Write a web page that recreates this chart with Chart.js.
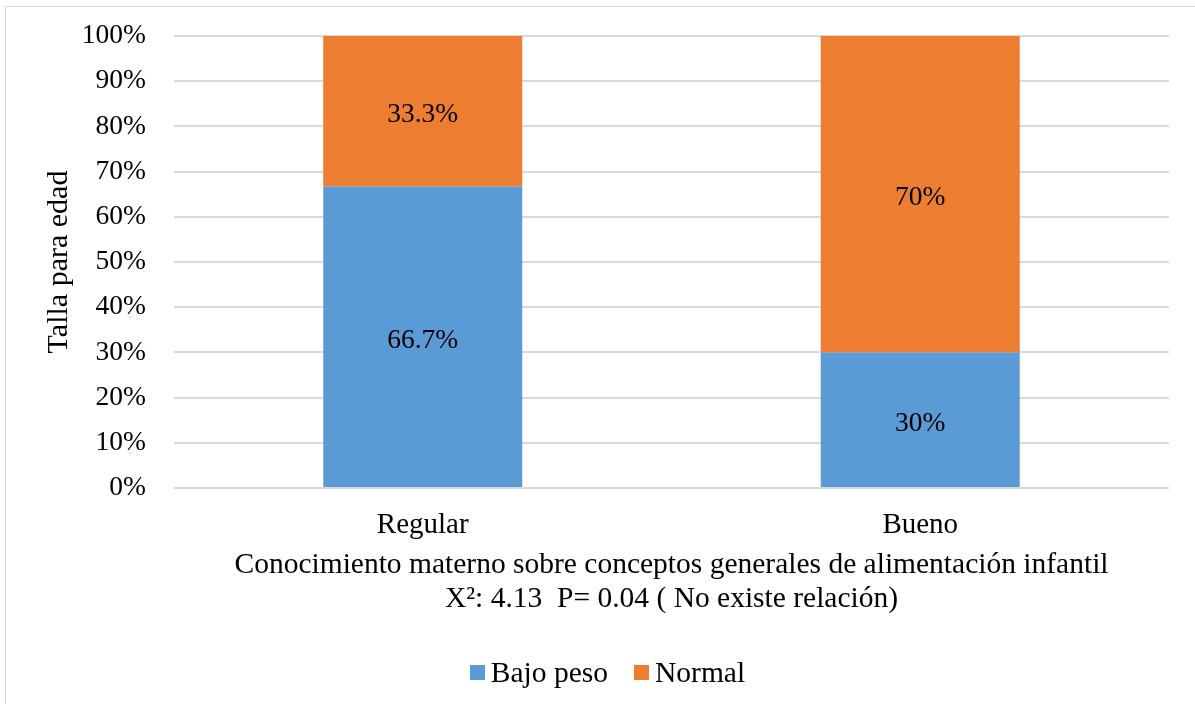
<!DOCTYPE html>
<html>
<head>
<meta charset="utf-8">
<script src="https://cdn.jsdelivr.net/npm/chart.js@4"></script>
<style>
  html, body { margin: 0; padding: 0; background: #fff; }
  #wrap { position: relative; width: 1195px; height: 704px; overflow: hidden; }
  #frame { position: absolute; left: 5px; top: 6px; width: 1220px; height: 730px;
           border: 1.5px solid #d9d9d9; box-sizing: border-box; }
  #chart { position: absolute; left: 0; top: 0; }
  #legend { position: absolute; left: 10px; width: 1195px; top: 656px; height: 32px;
            display: flex; justify-content: center; align-items: center;
            font-family: 'Liberation Serif', 'Times New Roman', serif; font-size: 29.5px; color: #000; }
  #legend .item { display: flex; align-items: center; margin: 0 13px; }
  #legend .box { width: 15px; height: 15px; margin-right: 6px; }
</style>
</head>
<body>
<div id="wrap">
  <div id="frame"></div>
  <canvas id="chart" width="1195" height="704"></canvas>
  <div id="legend"></div>
</div>
<script>
// chart data
const categories = ['Regular', 'Bueno'];
const bajoPeso = [66.7, 30];
const normal = [33.3, 70];
const yTicks = [0, 10, 20, 30, 40, 50, 60, 70, 80, 90, 100];
const xTitle = ['Conocimiento materno sobre conceptos generales de alimentación infantil',
                'X²: 4.13  P= 0.04 ( No existe relación)'];
const yTitle = 'Talla para edad';

const FONT = "'Liberation Serif', 'Times New Roman', serif";

// draws the % value in the middle of each bar segment
const barLabels = {
  id: 'barLabels',
  afterDatasetsDraw(chart) {
    const ctx = chart.ctx;
    ctx.save();
    ctx.font = '27.5px ' + FONT;
    ctx.fillStyle = '#000';
    ctx.textAlign = 'center';
    ctx.textBaseline = 'middle';
    chart.data.datasets.forEach(function(ds, i) {
      chart.getDatasetMeta(i).data.forEach(function(bar, j) {
        const p = bar.getProps(['x', 'y', 'base'], true);
        ctx.fillText(ds.data[j] + '%', p.x, (p.y + p.base) / 2 + 4);
      });
    });
    ctx.restore();
  }
};

Chart.defaults.font.family = FONT;
Chart.defaults.font.size = 27.5;
Chart.defaults.color = '#000';

const chart = new Chart(document.getElementById('chart').getContext('2d'), {
  type: 'bar',
  data: {
    labels: categories,
    datasets: [
      { label: 'Bajo peso', data: bajoPeso, backgroundColor: '#5b9bd5' },
      { label: 'Normal', data: normal, backgroundColor: '#ed7d31' }
    ]
  },
  options: {
    responsive: false,
    animation: false,
    barPercentage: 0.4,
    categoryPercentage: 1,
    layout: { padding: { left: 0, right: 26, top: 36, bottom: 88 } },
    plugins: {
      legend: { display: false },
      tooltip: { enabled: false }
    },
    scales: {
      x: {
        stacked: true,
        grid: { display: false, drawTicks: false },
        border: { display: false },
        ticks: { padding: 20, font: { size: 29 } },
        title: {
          display: true,
          text: xTitle,
          font: { size: 29.5, lineHeight: 1.15 },
          padding: { top: 7, bottom: 0 }
        },
        // chart.js counts tick padding twice, so pin the axis height
        afterFit(axis) { axis.height = 128; axis.paddingLeft = 0; axis.paddingRight = 0; }
      },
      y: {
        stacked: true,
        min: 0,
        max: 100,
        afterBuildTicks(axis) { axis.ticks = yTicks.map(function(v) { return { value: v }; }); },
        grid: { color: '#d9d9d9', lineWidth: 2, drawTicks: false },
        border: { display: false },
        ticks: { padding: 28, callback: function(v) { return v + '%'; } },
        title: {
          display: true,
          text: yTitle,
          font: { size: 30 },
          padding: { top: 41, bottom: 0 }
        },
        afterFit(axis) { axis.width = 174; axis.paddingTop = 0; axis.paddingBottom = 0; }
      }
    }
  },
  plugins: [barLabels]
});

// html legend built from the chart's own legend items
const legendEl = document.getElementById('legend');
chart.options.plugins.legend.labels.generateLabels(chart).forEach(function(item) {
  const el = document.createElement('div');
  el.className = 'item';
  el.innerHTML = '<span class="box" style="background:' + item.fillStyle + '"></span>' + item.text;
  legendEl.appendChild(el);
});
</script>
</body>
</html>
